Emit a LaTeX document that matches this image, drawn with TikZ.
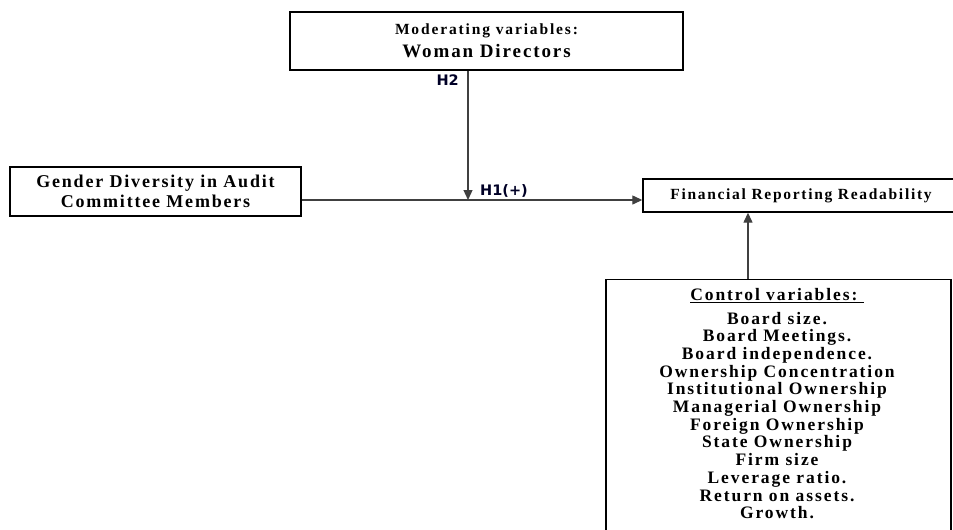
\documentclass[tikz,border=0pt]{standalone}
\usepackage{fontspec}
\setmainfont{Liberation Serif}
\newfontfamily\hfont{DejaVu Sans}
\usetikzlibrary{arrows.meta}
\tikzset{
  box/.style={draw=black, line width=1.4pt, rectangle, inner sep=0pt},
  conn/.style={draw=black!75, line width=1.3pt},
  arr/.style={conn, -{Triangle[length=10pt,width=9pt]}},
  hlab/.style={font=\hfont\bfseries\fontsize{14.5}{16}\selectfont, text=black!85!blue, inner sep=0pt},
}
\begin{document}
\begin{tikzpicture}[x=1pt,y=-1pt]
\useasboundingbox (0,0) rectangle (953,530);
% boxes
\node[box, minimum width=393pt, minimum height=58pt, align=center] (mod) at (486.5,41)
  {\bfseries\fontsize{15.5}{17}\selectfont\addfontfeature{LetterSpace=12}Moderating variables:\\[5pt]
   \bfseries\fontsize{19}{20}\selectfont\addfontfeature{LetterSpace=10}Woman Directors};
\node[box, minimum width=291pt, minimum height=49pt, align=center,
  font=\bfseries\fontsize{18}{20}\selectfont] (gd) at (155.5,191.5)
  {\addfontfeature{LetterSpace=10}Gender Diversity in Audit\\\addfontfeature{LetterSpace=10}Committee Members};
\node[box, minimum width=316pt, minimum height=33pt,
  font=\bfseries\fontsize{15.5}{17}\selectfont] (frr) at (801,195.5)
  {\addfontfeature{LetterSpace=11}Financial Reporting Readability};
\node[box, minimum width=345pt, minimum height=265pt, anchor=north] (ctrl) at (778.5,279) {};
\node[anchor=north, align=center, inner sep=0pt,
  font=\bfseries\fontsize{17.5}{17.7}\selectfont] (ctrltext) at (777,288)
  {\addfontfeature{LetterSpace=11}\underline{Control variables:\ }\\[6pt]
   \addfontfeature{LetterSpace=11}Board size.\\
   \addfontfeature{LetterSpace=11}Board Meetings.\\
   \addfontfeature{LetterSpace=11}Board independence.\\
   \addfontfeature{LetterSpace=11}Ownership Concentration\\
   \addfontfeature{LetterSpace=11}Institutional Ownership\\
   \addfontfeature{LetterSpace=11}Managerial Ownership\\
   \addfontfeature{LetterSpace=11}Foreign Ownership\\
   \addfontfeature{LetterSpace=11}State Ownership\\
   \addfontfeature{LetterSpace=11}Firm size\\
   \addfontfeature{LetterSpace=11}Leverage ratio.\\
   \addfontfeature{LetterSpace=11}Return on assets.\\
   \addfontfeature{LetterSpace=11}Growth.};
% coordinates
\coordinate (join) at (468,200);
\coordinate (cv) at (748,279);
% connectors
\draw[arr] (mod.south -| join) -- (join);
\draw[arr] (gd.east |- join) -- (frr.west |- join);
\draw[arr] (ctrl.north -| cv) -- (frr.south -| cv);
% labels
\node[hlab, anchor=east] (h2) at (459,80) {H2};
\node[hlab, anchor=west] (h1) at (480,191) {H1(+)};
\end{tikzpicture}
\end{document}
